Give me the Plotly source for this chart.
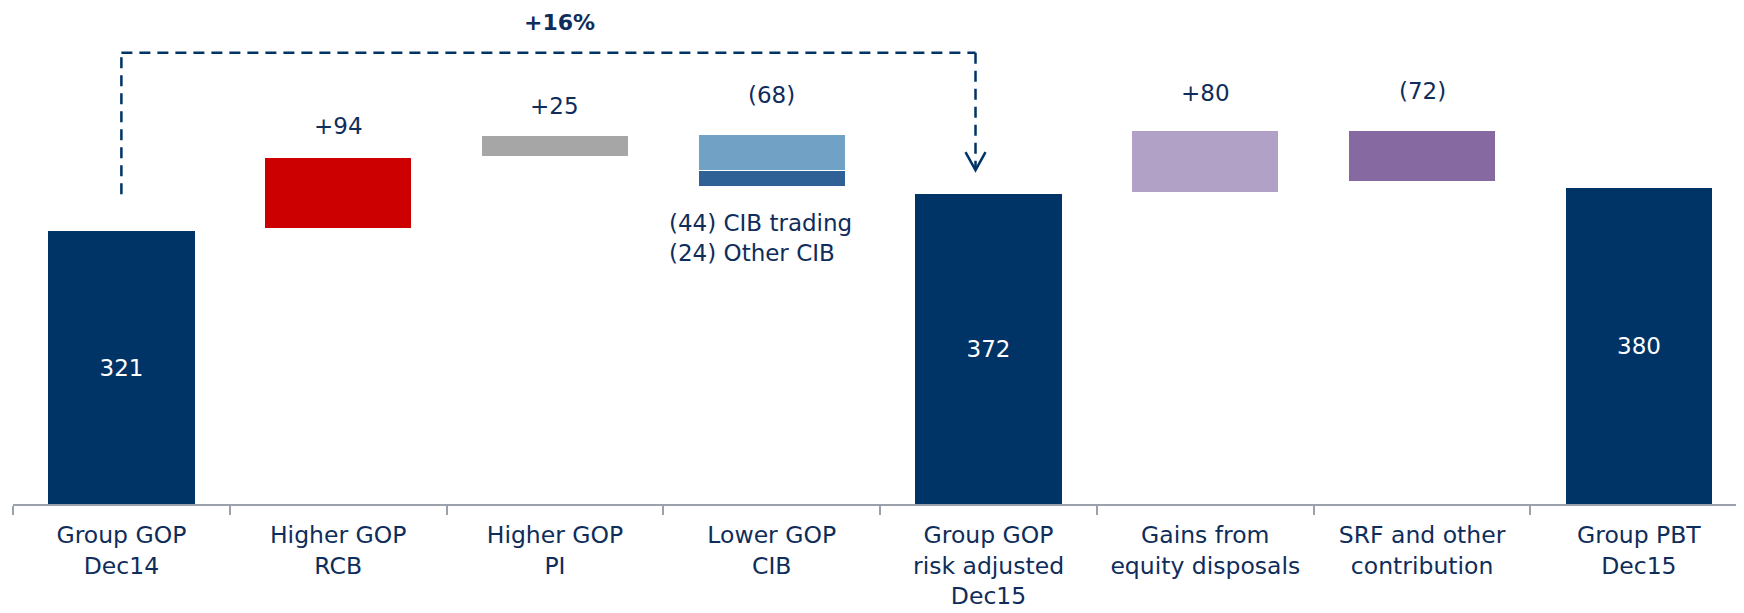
import plotly.graph_objects as go

# ---------------- data ----------------
categories = [
    "Group GOP<br>Dec14",
    "Higher GOP<br>RCB",
    "Higher GOP<br>PI",
    "Lower GOP<br>CIB",
    "Group GOP<br>risk adjusted<br>Dec15",
    "Gains from<br>equity disposals",
    "SRF and other<br>contribution",
    "Group PBT<br>Dec15",
]
values = [321, 94, 25, -68, 372, 80, -72, 380]
value_labels = ["321", "+94", "+25", "(68)", "372", "+80", "(72)", "380"]
kinds = ["total", "delta", "delta", "split", "total", "delta", "delta", "total"]
# the chart is drawn "not to scale": bottoms/tops of the drawn boxes
drawn_bottom = [0, 331, 418, 382, 0, 375, 388, 0]
drawn_top = [328, 416, 442, 443, 372, 448, 448, 380]

cib_parts = ["(44) CIB trading", "(24) Other CIB"]
cib_values = [-44, -24]
cib_bottom = [401, 382]
cib_top = [443, 400]

growth_label = "+16%"
bracket_from = 372   # left leg bottom (display units)
bracket_level = 542  # horizontal dashed line level
bracket_to = 401     # arrow tip

# ---------------- styles ----------------
NAVY = "#003366"
TEXT = "#0f2d5a"
FONT = "DejaVu Sans, Verdana, sans-serif"
bar_colors = [NAVY, "#cc0000", "#a6a6a6", None, NAVY, "#b2a1c7", "#8669a1", NAVY]
cib_colors = ["#71a2c6", "#2f6197"]
label_shift_px = [0, 32, 30, 40, 0, 38, 40, 0]
BAR_W = 0.675

fig = go.Figure()

idx = [i for i, k in enumerate(kinds) if k != "split"]
fig.add_trace(go.Bar(
    x=[categories[i] for i in idx],
    base=[drawn_bottom[i] for i in idx],
    y=[drawn_top[i] - drawn_bottom[i] for i in idx],
    marker=dict(color=[bar_colors[i] for i in idx], line=dict(width=0)),
    width=BAR_W,
    text=[value_labels[i] if kinds[i] == "total" else "" for i in idx],
    textposition="inside",
    insidetextanchor="middle",
    textfont=dict(family=FONT, size=23, color="white"),
    hoverinfo="skip",
    showlegend=False,
))

split_cat = categories[kinds.index("split")]
fig.add_trace(go.Bar(
    x=[split_cat] * len(cib_parts),
    base=cib_bottom,
    y=[t - b for t, b in zip(cib_top, cib_bottom)],
    marker=dict(color=cib_colors, line=dict(width=0)),
    width=BAR_W,
    hoverinfo="skip",
    showlegend=False,
))

# labels above the floating bars
for i, k in enumerate(kinds):
    if k == "total":
        continue
    fig.add_annotation(
        x=categories[i], y=drawn_top[i], text=value_labels[i], showarrow=False,
        yanchor="middle", yshift=label_shift_px[i],
        font=dict(family=FONT, size=23, color=TEXT),
    )

# CIB breakdown text
fig.add_annotation(
    x=split_cat, y=min(cib_bottom), text="<br>".join(cib_parts), showarrow=False,
    xanchor="center", yanchor="top", align="left", xshift=-11, yshift=-22,
    font=dict(family=FONT, size=23, color=TEXT),
)

# dashed bracket with arrow
x_left = 0
x_right = 3.94
dash = dict(color=NAVY, width=2.5, dash="11px,7px")
fig.add_shape(type="line", x0=x_left, x1=x_left, y0=bracket_from, y1=bracket_level, line=dash)
fig.add_shape(type="line", x0=x_left, x1=x_right, y0=bracket_level, y1=bracket_level, line=dash)
fig.add_shape(type="line", x0=x_right, x1=x_right, y0=bracket_level, y1=bracket_to, line=dash)
fig.add_shape(
    type="path", xsizemode="pixel", ysizemode="pixel", xanchor=x_right, yanchor=bracket_to,
    path="M -10,18 L 0,0 L 10,18", line=dict(color=NAVY, width=2.5),
)
fig.add_annotation(
    x=(x_left + x_right) / 2 + 0.05, y=bracket_level, text="<b>" + growth_label + "</b>",
    showarrow=False, yanchor="middle", yshift=30,
    font=dict(family=FONT, size=22, color=TEXT),
)

# the page adds an 8px body margin, so the figure is 8px smaller and offsets compensate
fig.update_layout(
    width=1736, height=605,
    margin=dict(l=5, r=0, t=0, b=109),
    paper_bgcolor="white", plot_bgcolor="white",
    barmode="overlay",
    bargap=0,
    font=dict(family=FONT, color=TEXT),
    xaxis=dict(
        type="category", categoryorder="array", categoryarray=categories,
        range=[-0.5, 7.485],
        showline=True, linecolor="#9aa1ab", linewidth=1.5,
        ticks="outside", tickson="boundaries", ticklen=9, tickcolor="#9aa1ab", tickwidth=1.5,
        ticklabelstandoff=9,
        tickfont=dict(family=FONT, size=23.5, color=TEXT),
        showgrid=False, zeroline=False, automargin=False,
    ),
    yaxis=dict(range=[0, 595.6], visible=False, showgrid=False, zeroline=False, fixedrange=True),
)

fig.write_html("out.html")
